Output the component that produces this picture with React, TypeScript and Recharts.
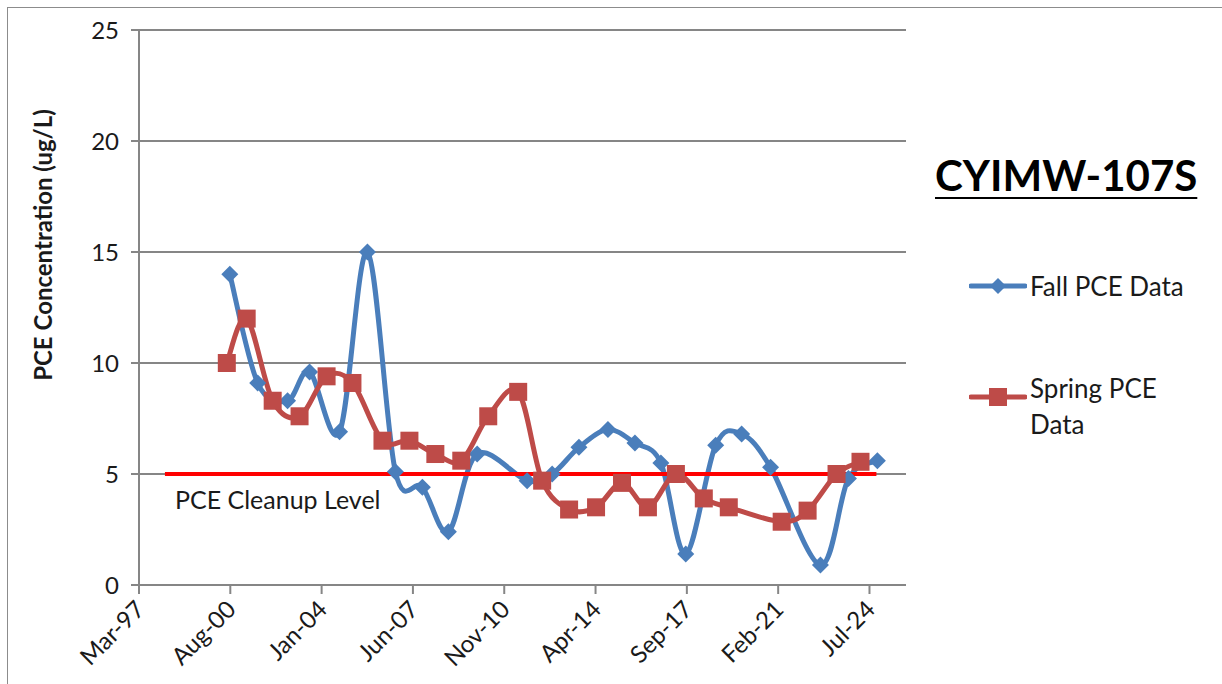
import React from "react";
import { CartesianGrid, LabelList, Legend, Line, LineChart, XAxis, YAxis } from "recharts";

const FALL_DATES = [
  "2000-08-05", "2001-08-22", "2002-10-05", "2003-08-02", "2004-09-16", "2005-10-02",
  "2006-10-20", "2007-10-24", "2008-10-14", "2009-11-13", "2011-09-27", "2012-09-04",
  "2013-09-06", "2014-10-08", "2015-10-12", "2016-10-01", "2017-09-07", "2018-10-22",
  "2019-10-12", "2020-11-11", "2022-09-25", "2023-10-13", "2024-11-12",
];
const FALL_PCE = [
  14.0, 9.1, 8.3, 9.6, 6.9, 15.0, 5.1, 4.4, 2.4, 5.9, 4.7, 5.0, 6.2, 7.0, 6.4, 5.5, 1.4, 6.3,
  6.8, 5.3, 0.9, 4.8, 5.6,
];

const SPRING_DATES = [
  "2000-06-25", "2001-03-24", "2002-03-15", "2003-03-18", "2004-03-22", "2005-03-11",
  "2006-04-26", "2007-04-30", "2008-04-19", "2009-04-09", "2010-04-13", "2011-05-28",
  "2012-04-20", "2013-04-24", "2014-04-28", "2015-04-18", "2016-04-07", "2017-04-25",
  "2018-05-12", "2019-04-19", "2021-04-12", "2022-04-02", "2023-05-03", "2024-03-26",
];
const SPRING_PCE = [
  10.0, 12.0, 8.3, 7.6, 9.4, 9.1, 6.5, 6.5, 5.9, 5.6, 7.6, 8.7, 4.7, 3.4, 3.5, 4.6, 3.5, 5.0,
  3.9, 3.5, 2.85, 3.35, 5.0, 5.55,
];

const CLEANUP_DATES = ["1998-03-01", "2024-10-30"];
const CLEANUP_LEVEL = [5, 5];

const X_TICK_LABELS = ["Mar-97", "Aug-00", "Jan-04", "Jun-07", "Nov-10", "Apr-14", "Sep-17", "Feb-21", "Jul-24"];
const Y_TICKS = [0, 5, 10, 15, 20, 25];

// excel-style date serials
const X_MIN = 35500;
const X_MAX = 46000;
const X_STEP = 1250;
const toSerial = (s: string) => {
  const [y, m, d] = s.split("-").map(Number);
  return Date.UTC(y, m - 1, d) / 86400000 + 25569;
};
const xTicks = X_TICK_LABELS.map((_, i) => X_MIN + i * X_STEP);

const fall = FALL_DATES.map((d, i) => ({ t: toSerial(d), v: FALL_PCE[i] }));
const spring = SPRING_DATES.map((d, i) => ({ t: toSerial(d), v: SPRING_PCE[i] }));
const cleanup = CLEANUP_DATES.map((d, i) => ({ t: toSerial(d), v: CLEANUP_LEVEL[i] }));

const BLUE = "#4a7ebb";
const RED = "#be4b48";
const GRID = "#868686";
const FONT = "Lato, 'Open Sans', sans-serif";
const TEXT = "#1a1a1a";

// excel-like smoothing (catmull-rom through every point)
const smooth = (context: any) => {
  let pts: number[][] = [];
  return {
    areaStart() {},
    areaEnd() {},
    lineStart() {
      pts = [];
    },
    point(x: number, y: number) {
      pts.push([+x, +y]);
    },
    lineEnd() {
      if (!pts.length) return;
      context.moveTo(pts[0][0], pts[0][1]);
      for (let i = 0; i < pts.length - 1; i++) {
        const p0 = pts[i - 1] || pts[i];
        const p1 = pts[i];
        const p2 = pts[i + 1];
        const p3 = pts[i + 2] || p2;
        context.bezierCurveTo(
          p1[0] + (p2[0] - p0[0]) / 6,
          p1[1] + (p2[1] - p0[1]) / 6,
          p2[0] - (p3[0] - p1[0]) / 6,
          p2[1] - (p3[1] - p1[1]) / 6,
          p2[0],
          p2[1]
        );
      }
    },
  };
};

const Diamond = ({ cx, cy }: any) => {
  if (cx == null || cy == null) return null;
  const r = 8.5;
  return <path d={`M${cx},${cy - r}L${cx + r},${cy}L${cx},${cy + r}L${cx - r},${cy}Z`} fill={BLUE} />;
};

const Square = ({ cx, cy }: any) => {
  if (cx == null || cy == null) return null;
  const s = 18;
  return <rect x={cx - s / 2} y={cy - s / 2} width={s} height={s} fill={RED} />;
};

const XTick = ({ x, y, payload }: any) => {
  const label = X_TICK_LABELS[xTicks.indexOf(payload.value)] ?? "";
  return (
    <g transform={`translate(${x + 7},${y + 15})`}>
      <text textAnchor="end" transform="rotate(-45)" fontSize={24} fontFamily={FONT} fill={TEXT}>
        {label}
      </text>
    </g>
  );
};

const YLabel = () => (
  <text
    x={52}
    y={245}
    transform="rotate(-90, 52, 245)"
    textAnchor="middle"
    fontSize={24}
    fontWeight="bold"
    fontFamily={FONT}
    fill={TEXT}
  >
    PCE Concentration (ug/L)
  </text>
);

const CleanupLabel = ({ x, y, index }: any) =>
  index === 0 ? (
    <text x={x + 10} y={y + 35} fontSize={25} fontFamily={FONT} fill={TEXT}>
      PCE Cleanup Level
    </text>
  ) : null;

const LegendIcon = ({ color, square }: { color: string; square?: boolean }) => (
  <svg width={58} height={20} style={{ verticalAlign: "middle" }}>
    <line x1={2} y1={10} x2={56} y2={10} stroke={color} strokeWidth={5} strokeLinecap="round" />
    {square ? (
      <rect x={20} y={1} width={18} height={18} fill={color} />
    ) : (
      <path d="M29,2L37,10L29,18L21,10Z" fill={color} />
    )}
  </svg>
);

const LegendBox = () => (
  <div style={{ position: "relative", width: 287, height: 320, fontFamily: FONT, color: TEXT }}>
    <div
      style={{
        position: "absolute",
        left: 0,
        top: -3,
        fontSize: 42,
        fontWeight: "bold",
        textDecoration: "underline",
        textDecorationThickness: 2,
        textUnderlineOffset: 6,
        color: "#000",
        lineHeight: "60px",
      }}
    >
      CYIMW-107S
    </div>
    <div style={{ position: "absolute", left: 34, top: 122, display: "flex", alignItems: "center", fontSize: 26 }}>
      <LegendIcon color={BLUE} />
      <span style={{ marginLeft: 3 }}>Fall PCE Data</span>
    </div>
    <div style={{ position: "absolute", left: 34, top: 222, display: "flex", alignItems: "flex-start", fontSize: 26 }}>
      <div style={{ marginTop: 8 }}>
        <LegendIcon color={RED} square />
      </div>
      <span style={{ marginLeft: 3, lineHeight: "36px", width: 150 }}>Spring PCE Data</span>
    </div>
  </div>
);

export default function App() {
  return (
    <div style={{ position: "absolute", left: 0, top: 0, width: 1222, height: 684, overflow: "hidden", background: "#fff" }}>
      <div
        style={{
          position: "absolute",
          left: 7,
          top: 7,
          width: 1260,
          height: 720,
          border: "1.5px solid #8c8c8c",
        }}
      />
      <LineChart width={1222} height={684} margin={{ top: 30, right: 316, left: 0, bottom: 0 }}>
        <CartesianGrid vertical={false} stroke={GRID} strokeWidth={2} />
        <XAxis
          dataKey="t"
          type="number"
          domain={[X_MIN, X_MAX]}
          ticks={xTicks}
          allowDataOverflow
          height={99}
          tick={<XTick />}
          tickSize={9}
          stroke={GRID}
          strokeWidth={2}
          interval={0}
        />
        <YAxis
          dataKey="v"
          type="number"
          domain={[0, 25]}
          ticks={Y_TICKS}
          width={139}
          tickSize={8}
          tickMargin={12}
          stroke={GRID}
          strokeWidth={2}
          tick={{ fontSize: 24, fontFamily: FONT, fill: TEXT }}
          label={<YLabel />}
        />
        <Legend
          layout="horizontal"
          align="center"
          verticalAlign="middle"
          content={<LegendBox />}
          wrapperStyle={{ position: "absolute", left: 935, top: 148, width: 287, height: 320 }}
        />
        <Line
          data={fall}
          dataKey="v"
          name="Fall PCE Data"
          type={smooth as any}
          stroke={BLUE}
          strokeWidth={5}
          dot={<Diamond />}
          activeDot={false}
          isAnimationActive={false}
        />
        <Line
          data={spring}
          dataKey="v"
          name="Spring PCE Data"
          type={smooth as any}
          stroke={RED}
          strokeWidth={5}
          dot={<Square />}
          activeDot={false}
          isAnimationActive={false}
        />
        <Line
          data={cleanup}
          dataKey="v"
          name="PCE Cleanup Level"
          type="linear"
          stroke="#ff0000"
          strokeWidth={4}
          dot={false}
          activeDot={false}
          legendType="none"
          isAnimationActive={false}
        >
          <LabelList dataKey="v" content={<CleanupLabel />} />
        </Line>
      </LineChart>
    </div>
  );
}
